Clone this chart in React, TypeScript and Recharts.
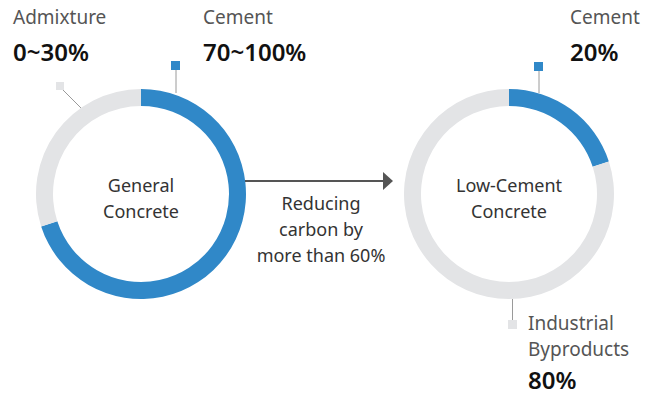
import { Cell, Pie, PieChart } from "recharts";

const generalNames = ["Cement", "Admixture"];
const generalValues = [70, 30];
const lowNames = ["Cement", "Industrial Byproducts"];
const lowValues = [20, 80];
const sliceColors = ["#3088c8", "#e3e4e6"];

const generalData = generalNames.map((name, i) => ({ name, value: generalValues[i] }));
const lowData = lowNames.map((name, i) => ({ name, value: lowValues[i] }));

const labelFont = "'Noto Sans', 'Open Sans', sans-serif";
const labelColor = "#555";
const valueColor = "#111";

export default function App() {
  return (
    <div style={{ position: "absolute", left: 0, top: 0, width: 647, height: 396, background: "#fff" }}>
      <PieChart width={647} height={396} margin={{ top: 0, right: 0, bottom: 0, left: 0 }}>
        <Pie
          data={generalData}
          dataKey="value"
          cx={141}
          cy={194}
          innerRadius={88}
          outerRadius={105}
          startAngle={90}
          endAngle={-270}
          stroke="none"
          isAnimationActive={false}
        >
          {generalData.map((d, i) => (
            <Cell key={d.name} fill={sliceColors[i]} />
          ))}
        </Pie>
        <Pie
          data={lowData}
          dataKey="value"
          cx={509}
          cy={194}
          innerRadius={88}
          outerRadius={105}
          startAngle={90}
          endAngle={-270}
          stroke="none"
          isAnimationActive={false}
        >
          {lowData.map((d, i) => (
            <Cell key={d.name} fill={sliceColors[i]} />
          ))}
        </Pie>
      </PieChart>
      <svg
        width={647}
        height={396}
        style={{ position: "absolute", left: 0, top: 0, pointerEvents: "none" }}
        fontFamily={labelFont}
      >
        {/* leader lines and markers */}
        <line x1={176} y1={70} x2={176} y2={93} stroke="#9a9a9a" strokeWidth={1} />
        <rect x={171} y={61} width={9} height={9} fill={sliceColors[0]} />
        <line x1={62} y1={89} x2={81} y2={108} stroke="#9a9a9a" strokeWidth={1} />
        <rect x={56} y={82} width={8} height={8} fill={sliceColors[1]} />
        <line x1={539} y1={71} x2={539} y2={93} stroke="#9a9a9a" strokeWidth={1} />
        <rect x={534} y={62} width={9} height={9} fill={sliceColors[0]} />
        <line x1={512.5} y1={299} x2={512.5} y2={320} stroke="#9a9a9a" strokeWidth={1} />
        <rect x={508} y={320} width={9} height={9} fill={sliceColors[1]} />

        {/* arrow */}
        <line x1={245} y1={181} x2={386} y2={181} stroke="#555" strokeWidth={2} />
        <polygon points="383,172 393,181 383,190" fill="#555" />

        {/* labels */}
        <text x={13} y={24} fontSize={19} fill={labelColor}>{generalNames[1]}</text>
        <text x={13} y={61} fontSize={24} fontWeight={600} fill={valueColor}>0~30%</text>
        <text x={203} y={24} fontSize={19} fill={labelColor}>{generalNames[0]}</text>
        <text x={203} y={61} fontSize={24} fontWeight={600} fill={valueColor}>70~100%</text>
        <text x={570} y={24} fontSize={19} fill={labelColor}>{lowNames[0]}</text>
        <text x={570} y={61} fontSize={24} fontWeight={600} fill={valueColor}>{lowValues[0]}%</text>
        <text x={528} y={330} fontSize={19} fill={labelColor}>Industrial</text>
        <text x={528} y={356} fontSize={19} fill={labelColor}>Byproducts</text>
        <text x={528} y={389} fontSize={24} fontWeight={600} fill={valueColor}>{lowValues[1]}%</text>

        <text x={141} y={192} fontSize={18} fill="#333" textAnchor="middle">General</text>
        <text x={141} y={218} fontSize={18} fill="#333" textAnchor="middle">Concrete</text>
        <text x={509} y={192} fontSize={18} fill="#333" textAnchor="middle">Low-Cement</text>
        <text x={509} y={218} fontSize={18} fill="#333" textAnchor="middle">Concrete</text>

        <text x={321} y={210} fontSize={18} fill="#333" textAnchor="middle">Reducing</text>
        <text x={321} y={236} fontSize={18} fill="#333" textAnchor="middle">carbon by</text>
        <text x={321} y={262} fontSize={18} fill="#333" textAnchor="middle">more than 60%</text>
      </svg>
    </div>
  );
}
